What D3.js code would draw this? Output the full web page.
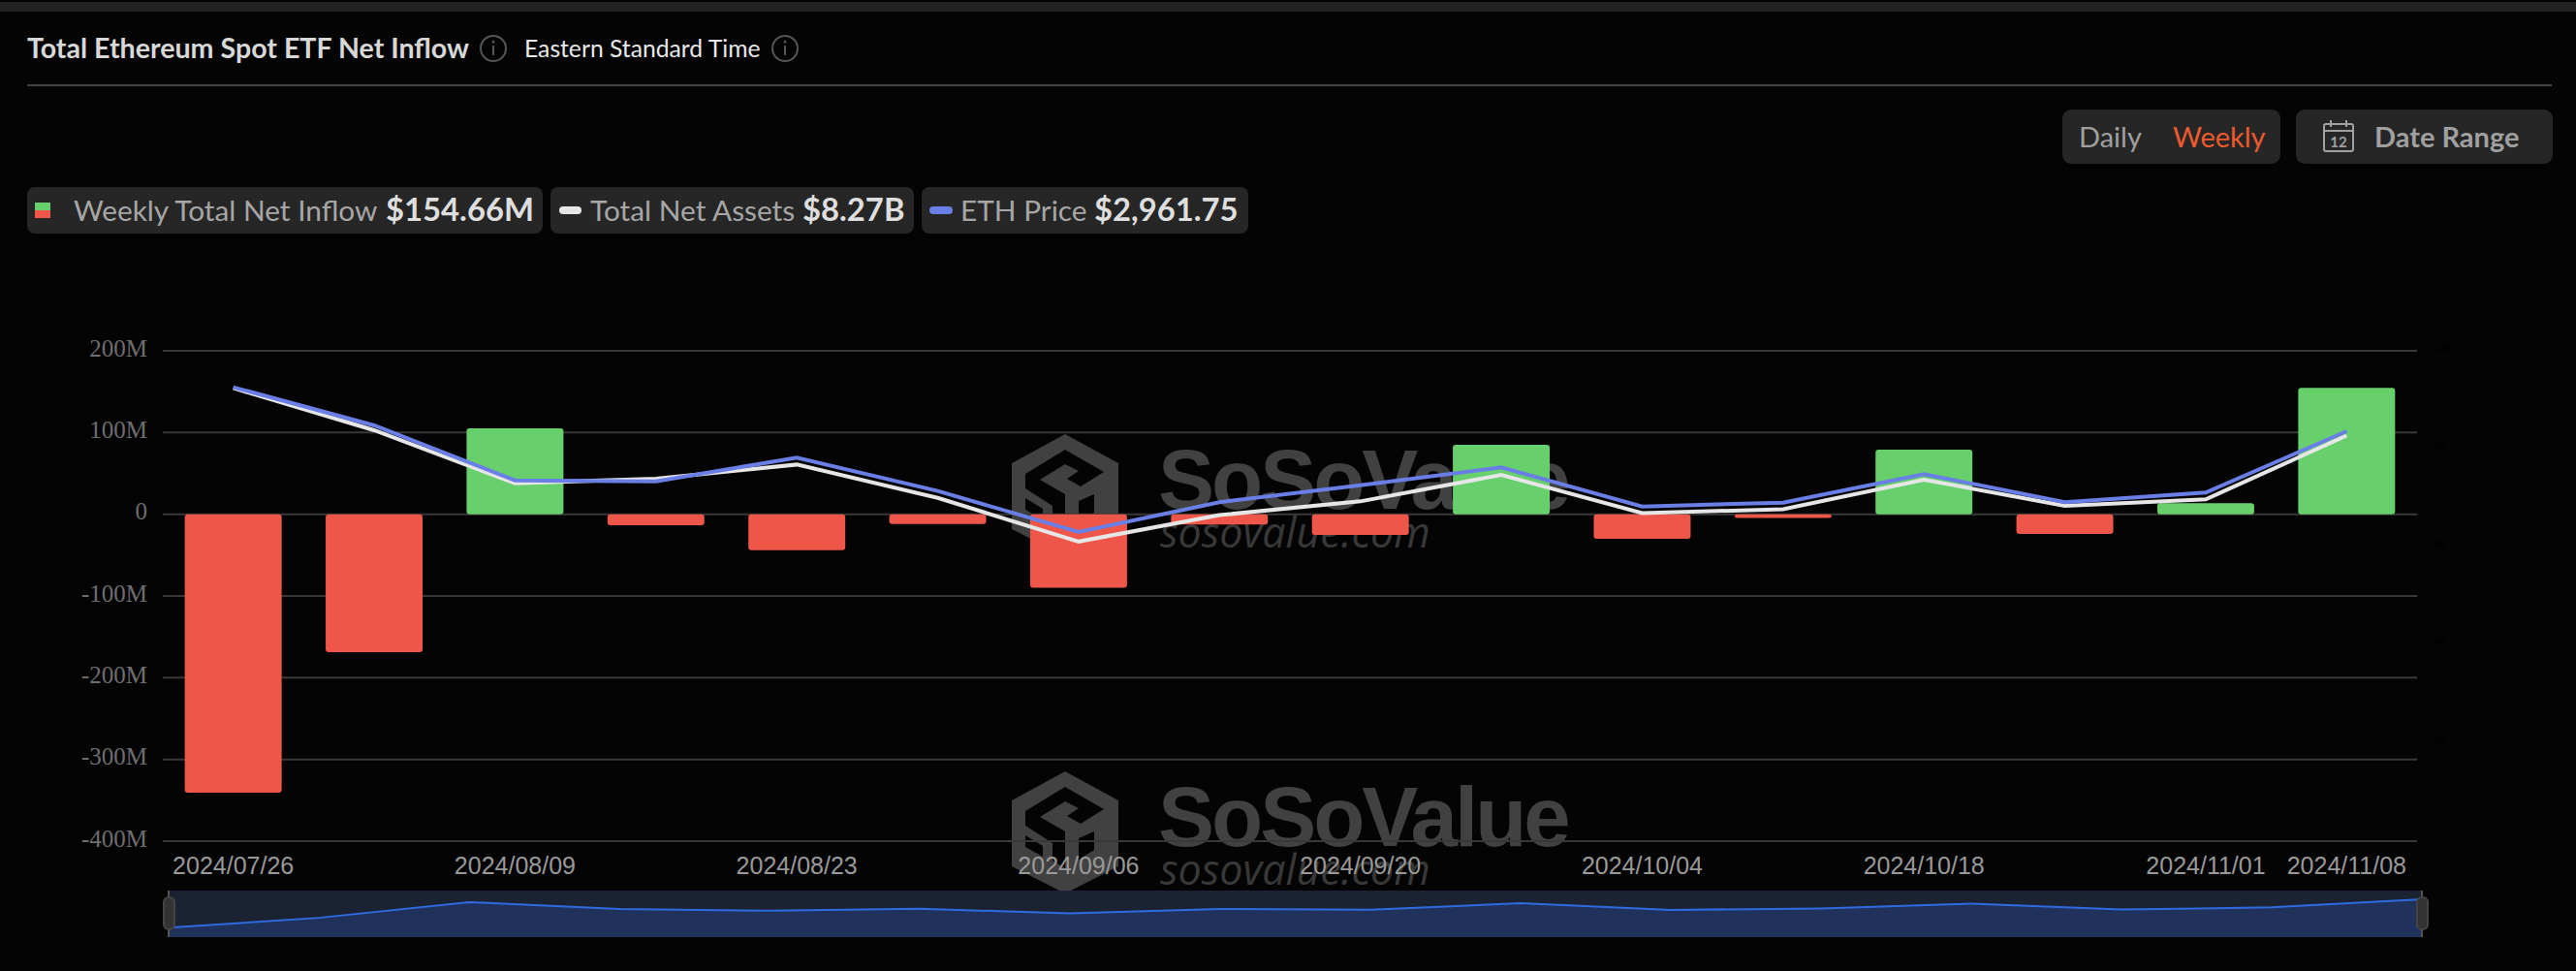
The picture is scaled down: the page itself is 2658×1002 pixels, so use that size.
<!DOCTYPE html>
<html>
<head>
<meta charset="utf-8">
<style>
  html, body { margin: 0; padding: 0; background: #040404; }
  svg { display: block; }
</style>
<script src="https://cdn.jsdelivr.net/npm/d3@7"></script>
</head>
<body>
<div id="chart"></div>
<script>
var dates = ["2024/07/26","2024/08/02","2024/08/09","2024/08/16","2024/08/23","2024/08/30","2024/09/06","2024/09/13",
             "2024/09/20","2024/09/27","2024/10/04","2024/10/11","2024/10/18","2024/10/25","2024/11/01","2024/11/08"];
var netInflow = [-340.7,-168.7,105,-13.4,-44,-12,-90,-12.5,-25.3,85,-30,-4.4,79,-24,13.4,154.66]; // $M
var netAssets = [9.24,8.38,7.30,7.39,7.68,7.00,6.11,6.65,6.93,7.47,6.69,6.77,7.37,6.84,6.97,8.27]; // $B
var ethPrice = [3280,3004,2607,2600,2771,2530,2234,2449,2572,2701,2418,2446,2652,2449,2519,2961.75];
var leftTicks = [200,100,0,-100,-200,-300,-400];
var rightTicks = [10,8,6,4,2,0];
var dateTicks = ["2024/07/26","2024/08/09","2024/08/23","2024/09/06","2024/09/20","2024/10/04","2024/10/18","2024/11/01","2024/11/08"];

var width = 2658,
    height = 1002,
    plot = {left: 168, right: 2494, top: 362, bottom: 868},
    green = "#67cf6c",
    red = "#ee5649",
    blue = "#6a7fe6",
    white = "#e6e6e6";

var svg = d3.select("#chart").append("svg")
    .attr("width", width)
    .attr("height", height)
    .style("font-family", "Lato");

var xScale = d3.scaleBand().domain(dates).range([plot.left, plot.right]).paddingInner(0.3125).paddingOuter(0.156);
var yLeft = d3.scaleLinear().domain([-400, 200]).range([plot.bottom, plot.top]);
var yRight = d3.scaleLinear().domain([0, 10]).range([plot.bottom, plot.top]);
var yPrice = d3.scaleLinear().domain([0, 3543]).range([plot.bottom, plot.top]);
var xMid = d => xScale(d) + xScale.bandwidth() / 2;

// header
svg.append("rect").attr("x", 0).attr("y", 2).attr("width", width).attr("height", 10).attr("fill", "#222");
svg.append("text").attr("x", 28).attr("y", 60).attr("fill", "#d8d8d8")
    .style("font-size", "28.6px").style("font-weight", 700).text("Total Ethereum Spot ETF Net Inflow");
svg.append("text").attr("x", 541).attr("y", 59).attr("fill", "#e8e8e8")
    .style("font-size", "24.7px").text("Eastern Standard Time");
svg.append("rect").attr("x", 28).attr("y", 87).attr("width", 2605).attr("height", 2).attr("fill", "#444");

function infoIcon(cx, cy) {
    var g = svg.append("g").attr("transform", `translate(${cx},${cy})`);
    g.append("circle").attr("r", 13).attr("fill", "none").attr("stroke", "#555").attr("stroke-width", 2);
    g.append("line").attr("y1", -3).attr("y2", 7).attr("stroke", "#555").attr("stroke-width", 2);
    g.append("circle").attr("cy", -7).attr("r", 1.5).attr("fill", "#555");
}
infoIcon(509, 50);
infoIcon(810, 50);

// legend chips
var chips = [
    {x: 28, w: 532, label: "Weekly Total Net Inflow", lx: 76, value: "$154.66M", vx: 398},
    {x: 568, w: 375, label: "Total Net Assets", lx: 609, value: "$8.27B", vx: 828},
    {x: 951, w: 337, label: "ETH Price", lx: 991, value: "$2,961.75", vx: 1129}
];
var chip = svg.selectAll(".chip").data(chips).enter().append("g").attr("class", "chip");
chip.append("rect").attr("x", d => d.x).attr("y", 193).attr("width", d => d.w).attr("height", 48).attr("rx", 8).attr("fill", "#262626");
chip.append("text").attr("x", d => d.lx).attr("y", 228).attr("fill", "#a6a6a6").style("font-size", "29.8px").text(d => d.label);
chip.append("text").attr("x", d => d.vx).attr("y", 228).attr("fill", "#dedede").style("font-size", "32.8px").style("font-weight", 700).text(d => d.value);
svg.append("rect").attr("x", 36).attr("y", 209).attr("width", 16).attr("height", 8).attr("fill", green);
svg.append("rect").attr("x", 36).attr("y", 217).attr("width", 16).attr("height", 8).attr("fill", red);
svg.append("rect").attr("x", 577).attr("y", 213).attr("width", 23).attr("height", 8).attr("rx", 4).attr("fill", white);
svg.append("rect").attr("x", 959).attr("y", 213).attr("width", 24).attr("height", 8).attr("rx", 4).attr("fill", blue);

// buttons
svg.append("rect").attr("x", 2128).attr("y", 113).attr("width", 225).attr("height", 56).attr("rx", 9).attr("fill", "#262626");
svg.append("rect").attr("x", 2369).attr("y", 113).attr("width", 265).attr("height", 56).attr("rx", 9).attr("fill", "#262626");
svg.append("text").attr("x", 2145).attr("y", 152).attr("fill", "#a0a0a0").style("font-size", "29px").text("Daily");
svg.append("text").attr("x", 2242).attr("y", 152).attr("fill", "#ee5a2e").style("font-size", "29px").text("Weekly");
svg.append("text").attr("x", 2450).attr("y", 152).attr("fill", "#a0a0a0").style("font-size", "29px").style("font-weight", 700).text("Date Range");
var cal = svg.append("g").attr("transform", "translate(2398,124)");
cal.append("rect").attr("y", 4).attr("width", 30).attr("height", 28).attr("rx", 2).attr("fill", "none").attr("stroke", "#a0a0a0").attr("stroke-width", 2);
cal.append("line").attr("x1", 0).attr("x2", 30).attr("y1", 11).attr("y2", 11).attr("stroke", "#a0a0a0").attr("stroke-width", 2);
cal.selectAll(".peg").data([7, 23]).enter().append("line").attr("class", "peg")
    .attr("x1", d => d).attr("x2", d => d).attr("y1", 0).attr("y2", 7).attr("stroke", "#a0a0a0").attr("stroke-width", 2);
cal.append("text").attr("x", 15).attr("y", 28).attr("text-anchor", "middle").attr("fill", "#a0a0a0")
    .style("font-size", "15px").style("font-weight", 700).text("12");

// watermarks
function watermark(dy) {
    var g = svg.append("g").attr("transform", `translate(0,${dy})`);
    var logo = g.append("g").attr("transform", "translate(1044,448)");
    logo.append("path").attr("fill", "#414141").attr("d", "M55 0L110 30V98L55 126L0 98V30Z");
    logo.append("path").attr("fill", "#040404").attr("d", "M14 41L55 16L95 39L71 54L57 46L69 38L55 31L29 47L55 62V100L42 92V74L14 56Z");
    logo.append("path").attr("fill", "#040404").attr("d", "M69 69L85 62V81L69 91Z");
    logo.append("path").attr("fill", "#040404").attr("d", "M14 66L32 77V88L14 78Z");
    g.append("text").attr("x", 1195).attr("y", 525).attr("fill", "#414141")
        .style("font-family", "Liberation Sans").style("font-size", "87px").style("font-weight", 700)
        .style("letter-spacing", "-3px").text("SoSoValue");
    g.append("text").attr("x", 1197).attr("y", 565).attr("fill", "#383838")
        .style("font-family", "Open Sans").style("font-style", "italic").style("font-size", "43px").text("sosovalue.com");
}
watermark(0);
watermark(348);

// grid
svg.append("g").selectAll("line").data(leftTicks).enter().append("line")
    .attr("x1", plot.left).attr("x2", plot.right)
    .attr("y1", d => yLeft(d)).attr("y2", d => yLeft(d))
    .attr("stroke", "#383838").attr("stroke-width", 2);

// axes, tick labels only
var axisLeft = svg.append("g").attr("transform", "translate(152,-3)")
    .call(d3.axisLeft(yLeft).tickValues(leftTicks).tickSize(0).tickPadding(0).tickFormat(d => d === 0 ? "0" : d + "M"));
var axisRight = svg.append("g").attr("transform", "translate(2511,-3)")
    .call(d3.axisRight(yRight).tickValues(rightTicks).tickSize(0).tickPadding(0).tickFormat(d => d === 0 ? "0" : d + "B"));
var axisBottom = svg.append("g").attr("transform", "translate(0,884)")
    .call(d3.axisBottom(xScale).tickValues(dateTicks).tickSize(0).tickPadding(0));
axisLeft.selectAll("text").merge(axisRight.selectAll("text"))
    .attr("fill", "#6e6e6e").style("font-family", "Liberation Serif").style("font-size", "25px");
axisBottom.selectAll("text").attr("fill", "#999").style("font-family", "Liberation Sans").style("font-size", "25px");
svg.selectAll(".domain").remove();

// bars
var bars = dates.map((d, i) => ({date: d, value: netInflow[i]}));
svg.append("g").selectAll("path").data(bars).enter().append("rect")
    .attr("x", d => xScale(d.date))
    .attr("y", d => Math.min(yLeft(d.value), yLeft(0)))
    .attr("width", xScale.bandwidth())
    .attr("height", d => Math.abs(yLeft(d.value) - yLeft(0)))
    .attr("rx", 3)
    .attr("fill", d => d.value >= 0 ? green : red);

// lines
var assetLine = d3.line().x((d, i) => xMid(dates[i])).y(d => yRight(d));
var priceLine = d3.line().x((d, i) => xMid(dates[i])).y(d => yPrice(d));
svg.append("path").attr("d", assetLine(netAssets)).attr("fill", "none").attr("stroke", white).attr("stroke-width", 4);
svg.append("path").attr("d", priceLine(ethPrice)).attr("fill", "none").attr("stroke", blue).attr("stroke-width", 4);

// slider under the chart, its shadow follows the net inflow
var sx = d3.scalePoint().domain(dates).range([174, 2499]);
var sy = d3.scaleLinear().domain(d3.extent(netInflow)).range([957.3, 928]);
svg.append("rect").attr("x", 174).attr("y", 919).attr("width", 2326).attr("height", 48).attr("fill", "#1b2333");
svg.append("path")
    .attr("d", d3.area().x((d, i) => sx(dates[i])).y0(967).y1(d => sy(d))(netInflow))
    .attr("fill", "#20325c");
svg.append("path")
    .attr("d", d3.line().x((d, i) => sx(dates[i])).y(d => sy(d))(netInflow))
    .attr("fill", "none").attr("stroke", "#2f6be0").attr("stroke-width", 2);
[174, 2499].forEach(x => {
    svg.append("line").attr("x1", x).attr("x2", x).attr("y1", 919).attr("y2", 967).attr("stroke", "#555").attr("stroke-width", 2);
    svg.append("rect").attr("x", x - 5).attr("y", 926).attr("width", 11).attr("height", 33).attr("rx", 5)
        .attr("fill", "#333").attr("stroke", "#444").attr("stroke-width", 2);
});
</script>
</body>
</html>
